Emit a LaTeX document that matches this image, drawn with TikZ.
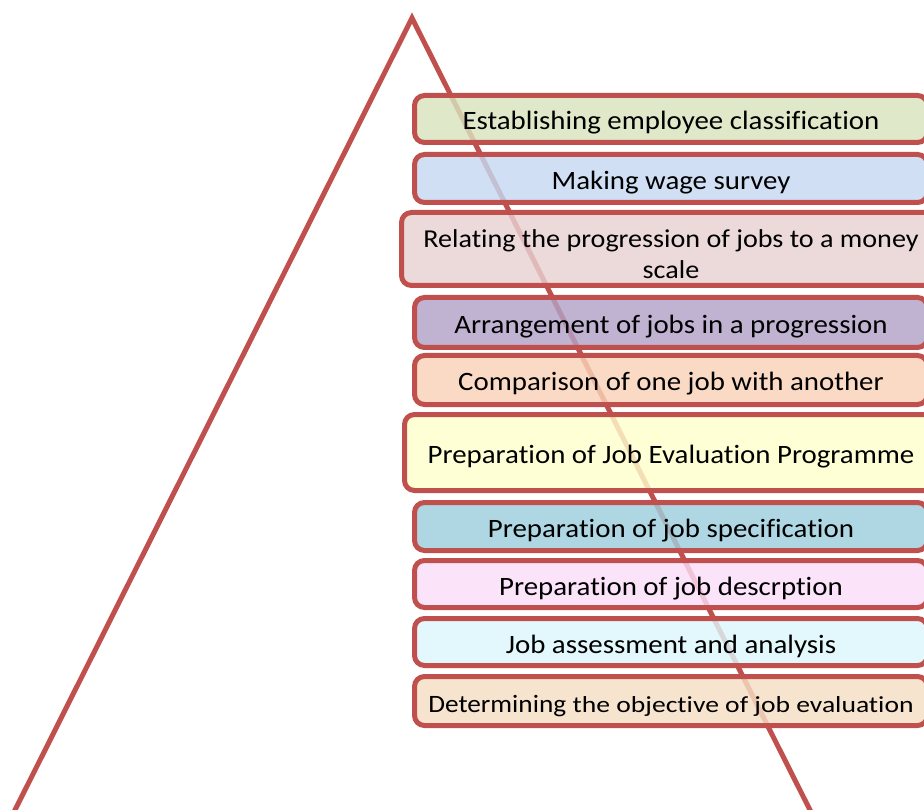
\documentclass[tikz,border=0pt]{standalone}
\usepackage{fontspec}
\setmainfont[Ligatures=NoCommon, FakeStretch=1.09]{Carlito}
\newfontfamily\widefont[Ligatures=NoCommon, FakeStretch=1.2]{Carlito}
\definecolor{edge}{RGB}{192,80,77}
\definecolor{cA}{RGB}{216,228,189}
\definecolor{cB}{RGB}{198,217,241}
\definecolor{cC}{RGB}{232,210,210}
\definecolor{cD}{RGB}{179,162,199}
\definecolor{cE}{RGB}{249,211,184}
\definecolor{cF}{RGB}{255,255,204}
\definecolor{cG}{RGB}{157,207,221}
\definecolor{cH}{RGB}{251,221,248}
\definecolor{cI}{RGB}{222,247,252}
\definecolor{cJ}{RGB}{245,223,196}
\begin{document}
\begin{tikzpicture}[x=1pt,y=-1pt,
  tri/.style={draw=edge, line width=5pt, miter limit=10},
  box/.style={draw=edge, line width=5pt, rounded corners=10pt, fill opacity=0.82, text opacity=1,
    anchor=west, inner sep=0pt, outer sep=0pt, align=center, text height=22pt, text depth=0pt,
    font=\fontsize{26.5}{31}\selectfont},
  twoline/.style={text height=, text depth=, font=\fontsize{25.8}{31}\selectfont}]
\useasboundingbox (0,0) rectangle (924,810);
\clip (0,0) rectangle (924,810);
\fill[white] (0,0) rectangle (924,810);
\coordinate (apex) at (412,18);
\coordinate (lf) at (10,820);
\coordinate (rf) at (815,820);
\draw[tri] (lf) -- (apex) -- (rf);
\node[box, fill=cA, minimum width=513pt, minimum height=47pt] (b1) at (414.5,119) {Establishing employee classification};
\node[box, fill=cB, minimum width=513pt, minimum height=48pt] (b2) at (414.5,178.5) {Making wage survey};
\node[box, twoline, fill=cC, minimum width=539pt, minimum height=73pt] (b3) at (401.5,249) {\rule{0pt}{28pt}Relating the progression of jobs to a money\\scale};
\node[box, fill=cD, minimum width=513pt, minimum height=50pt] (b4) at (414.5,322.5) {Arrangement of jobs in a progression};
\node[box, fill=cE, minimum width=513pt, minimum height=49pt] (b5) at (414.5,380) {Comparison of one job with another};
\node[box, fill=cF, minimum width=533pt, minimum height=76pt] (b6) at (404.5,452.5) {Preparation of Job Evaluation Programme};
\node[box, fill=cG, minimum width=513pt, minimum height=48pt] (b7) at (414.5,526.5) {Preparation of job specification};
\node[box, fill=cH, minimum width=513pt, minimum height=47pt] (b8) at (414.5,584) {Preparation of job descrption};
\node[box, fill=cI, minimum width=513pt, minimum height=47pt] (b9) at (414.5,642) {Job assessment and analysis};
\node[box, fill=cJ, minimum width=513pt, minimum height=49pt] (b10) at (414.5,701) {{\fontsize{25}{31}\selectfont Determining} {\widefont\fontsize{23}{31}\selectfont the objective of job evaluation}};
\end{tikzpicture}
\end{document}
